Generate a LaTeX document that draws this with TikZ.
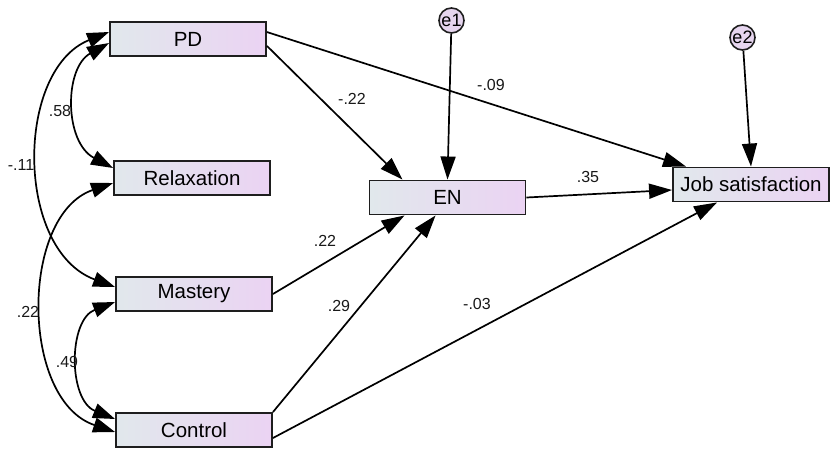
\documentclass[tikz,border=0pt]{standalone}
\usepackage{fontspec}
\setmainfont{Liberation Sans}
\usetikzlibrary{arrows.meta,calc}
\definecolor{boxleft}{HTML}{E1E8EC}
\definecolor{boxright}{HTML}{EBD3F3}
\definecolor{errfill}{HTML}{E6D5EF}
\definecolor{edgegray}{HTML}{1E1E1E}
\begin{document}
\begin{tikzpicture}[x=1pt,y=-1pt,
  var/.style={draw=edgegray, line width=1.9pt, left color=boxleft, right color=boxright,
    minimum width=156pt, minimum height=34pt, inner sep=0pt,
    font=\fontsize{20.5}{24}\selectfont},
  err/.style={circle, draw=edgegray, line width=1.6pt, fill=errfill,
    minimum size=25pt, inner sep=0pt, font=\fontsize{18}{20}\selectfont},
  reg/.style={line width=1.7pt, -{Triangle[length=23pt,width=15pt]}},
  cov/.style={line width=1.7pt,
    {Triangle[length=22pt,width=15pt]}-{Triangle[length=22pt,width=15pt]}},
  coef/.style={font=\fontsize{16}{18}\selectfont, inner sep=0pt, text=black!90}]
\useasboundingbox (0,0) rectangle (830,448);

% observed variables
\node[var] (PD)  at (188,39)     {PD};
\node[var] (Rel) at (192,178)    {Relaxation};
\node[var] (Mas) at (194,294)    {Mastery};
\node[var] (Con) at (194,430)    {Control};
\node[var] (EN)  at (447.5,197.5) {EN};
\node[var] (JS)  at (751,184.5)  {Job satisfaction};

% residuals
\node[err] (e1) at (451.5,20.5) {e1};
\node[err] (e2) at (742.5,37.5) {e2};

% regression paths
\draw[reg] ($(PD.north east)+(0,11)$) -- ($(JS.north west)+(14,0)$);
\draw[reg] ($(PD.south east)+(0,-11)$) -- ($(EN.north west)+(34,0)$);
\draw[reg] (EN.east) -- ($(JS.west)+(0,5.5)$);
\draw[reg] (Mas.east) -- ($(EN.south west)+(36,0)$);
\draw[reg] (Con.north east) -- ($(EN.south west)+(67,0)$);
\draw[reg] ($(Con.east)+(0,8)$) -- ($(JS.south west)+(45,0)$);
\draw[reg] (e1) -- (EN.north);
\draw[reg] (e2) -- (JS.north);

% covariances among the predictors
\draw[cov] ($(PD.west)+(0,4)$) .. controls (64,68) and (64,142) .. ($(Rel.west)+(0,-10)$);
\draw[cov] ($(PD.west)+(0,-7)$) .. controls (15,70) and (15,250) .. ($(Mas.west)+(0,-7)$);
\draw[cov] ($(Rel.west)+(0,5)$) .. controls (20,215) and (20,400) .. ($(Con.west)+(0,2)$);
\draw[cov] ($(Mas.west)+(0,8)$) .. controls (68,320) and (68,400) .. ($(Con.west)+(0,-11)$);

% coefficients
\node[coef] (c58)  at (60,111)  {.58};
\node[coef] (c11)  at (21,165)  {-.11};
\node[coef] (c22a) at (28,312)  {.22};
\node[coef] (c49)  at (67,362)  {.49};
\node[coef] (c22b) at (352,99)  {-.22};
\node[coef] (c09)  at (491,85)  {-.09};
\node[coef] (c35)  at (588,177) {.35};
\node[coef] (c22c) at (325,241) {.22};
\node[coef] (c29)  at (339,306) {.29};
\node[coef] (c03)  at (477,304) {-.03};
\end{tikzpicture}
\end{document}
